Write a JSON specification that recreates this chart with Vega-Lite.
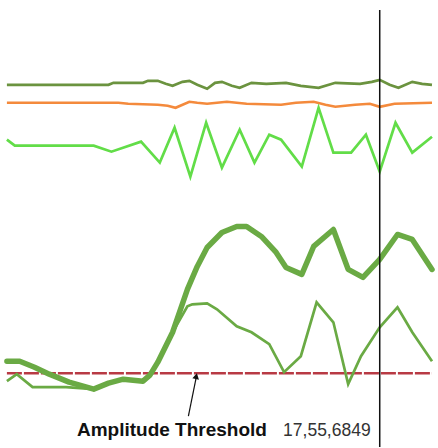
{
  "$schema": "https://vega.github.io/schema/vega-lite/v6.json",
  "width": 438,
  "height": 448,
  "autosize": {"type": "fit", "contains": "padding"},
  "padding": 0,
  "background": "white",
  "config": {"view": {"stroke": null}},
  "datasets": {
    "lines": [
      {"s": "olive", "t": 7, "a": 85}, {"s": "olive", "t": 110, "a": 85}, {"s": "olive", "t": 115, "a": 83}, {"s": "olive", "t": 145, "a": 83}, {"s": "olive", "t": 150, "a": 81}, {"s": "olive", "t": 160, "a": 81}, {"s": "olive", "t": 168, "a": 84}, {"s": "olive", "t": 175, "a": 86}, {"s": "olive", "t": 185, "a": 82}, {"s": "olive", "t": 192, "a": 81}, {"s": "olive", "t": 200, "a": 85}, {"s": "olive", "t": 210, "a": 89}, {"s": "olive", "t": 218, "a": 83}, {"s": "olive", "t": 225, "a": 82}, {"s": "olive", "t": 235, "a": 86}, {"s": "olive", "t": 243, "a": 88}, {"s": "olive", "t": 255, "a": 83}, {"s": "olive", "t": 270, "a": 84}, {"s": "olive", "t": 290, "a": 83}, {"s": "olive", "t": 305, "a": 86}, {"s": "olive", "t": 323, "a": 88}, {"s": "olive", "t": 340, "a": 83}, {"s": "olive", "t": 365, "a": 84}, {"s": "olive", "t": 377, "a": 82}, {"s": "olive", "t": 385, "a": 80}, {"s": "olive", "t": 395, "a": 85}, {"s": "olive", "t": 404, "a": 88}, {"s": "olive", "t": 418, "a": 82}, {"s": "olive", "t": 428, "a": 84}, {"s": "olive", "t": 438, "a": 85},
      {"s": "orange", "t": 7, "a": 103}, {"s": "orange", "t": 120, "a": 103}, {"s": "orange", "t": 130, "a": 104}, {"s": "orange", "t": 160, "a": 105}, {"s": "orange", "t": 170, "a": 106}, {"s": "orange", "t": 178, "a": 108}, {"s": "orange", "t": 192, "a": 102}, {"s": "orange", "t": 200, "a": 103}, {"s": "orange", "t": 210, "a": 104}, {"s": "orange", "t": 230, "a": 102}, {"s": "orange", "t": 250, "a": 104}, {"s": "orange", "t": 285, "a": 105}, {"s": "orange", "t": 300, "a": 103}, {"s": "orange", "t": 318, "a": 102}, {"s": "orange", "t": 330, "a": 105}, {"s": "orange", "t": 340, "a": 107}, {"s": "orange", "t": 360, "a": 105}, {"s": "orange", "t": 375, "a": 104}, {"s": "orange", "t": 385, "a": 107}, {"s": "orange", "t": 400, "a": 104}, {"s": "orange", "t": 438, "a": 103},
      {"s": "lime", "t": 7, "a": 140}, {"s": "lime", "t": 15, "a": 146}, {"s": "lime", "t": 95, "a": 146}, {"s": "lime", "t": 113, "a": 152}, {"s": "lime", "t": 143, "a": 142}, {"s": "lime", "t": 162, "a": 163}, {"s": "lime", "t": 177, "a": 128}, {"s": "lime", "t": 193, "a": 177}, {"s": "lime", "t": 209, "a": 123}, {"s": "lime", "t": 225, "a": 168}, {"s": "lime", "t": 243, "a": 130}, {"s": "lime", "t": 258, "a": 163}, {"s": "lime", "t": 273, "a": 135}, {"s": "lime", "t": 285, "a": 140}, {"s": "lime", "t": 306, "a": 167}, {"s": "lime", "t": 323, "a": 108}, {"s": "lime", "t": 338, "a": 153}, {"s": "lime", "t": 356, "a": 153}, {"s": "lime", "t": 371, "a": 135}, {"s": "lime", "t": 385, "a": 172}, {"s": "lime", "t": 401, "a": 123}, {"s": "lime", "t": 418, "a": 153}, {"s": "lime", "t": 438, "a": 137},
      {"s": "thin", "t": 7, "a": 382}, {"s": "thin", "t": 17, "a": 375}, {"s": "thin", "t": 33, "a": 388}, {"s": "thin", "t": 67, "a": 388}, {"s": "thin", "t": 95, "a": 390}, {"s": "thin", "t": 110, "a": 384}, {"s": "thin", "t": 125, "a": 380}, {"s": "thin", "t": 145, "a": 382}, {"s": "thin", "t": 152, "a": 376}, {"s": "thin", "t": 160, "a": 363}, {"s": "thin", "t": 175, "a": 333}, {"s": "thin", "t": 190, "a": 307}, {"s": "thin", "t": 195, "a": 305}, {"s": "thin", "t": 210, "a": 304}, {"s": "thin", "t": 220, "a": 310}, {"s": "thin", "t": 240, "a": 327}, {"s": "thin", "t": 255, "a": 333}, {"s": "thin", "t": 273, "a": 345}, {"s": "thin", "t": 288, "a": 373}, {"s": "thin", "t": 305, "a": 357}, {"s": "thin", "t": 321, "a": 303}, {"s": "thin", "t": 338, "a": 323}, {"s": "thin", "t": 353, "a": 385}, {"s": "thin", "t": 366, "a": 357}, {"s": "thin", "t": 385, "a": 328}, {"s": "thin", "t": 403, "a": 308}, {"s": "thin", "t": 418, "a": 333}, {"s": "thin", "t": 438, "a": 362},
      {"s": "thick", "t": 7, "a": 362}, {"s": "thick", "t": 20, "a": 362}, {"s": "thick", "t": 35, "a": 368}, {"s": "thick", "t": 50, "a": 375}, {"s": "thick", "t": 70, "a": 383}, {"s": "thick", "t": 95, "a": 390}, {"s": "thick", "t": 110, "a": 384}, {"s": "thick", "t": 125, "a": 380}, {"s": "thick", "t": 145, "a": 382}, {"s": "thick", "t": 152, "a": 376}, {"s": "thick", "t": 160, "a": 363}, {"s": "thick", "t": 175, "a": 333}, {"s": "thick", "t": 190, "a": 290}, {"s": "thick", "t": 200, "a": 267}, {"s": "thick", "t": 210, "a": 248}, {"s": "thick", "t": 218, "a": 240}, {"s": "thick", "t": 225, "a": 233}, {"s": "thick", "t": 240, "a": 227}, {"s": "thick", "t": 250, "a": 227}, {"s": "thick", "t": 265, "a": 237}, {"s": "thick", "t": 280, "a": 253}, {"s": "thick", "t": 290, "a": 268}, {"s": "thick", "t": 306, "a": 275}, {"s": "thick", "t": 318, "a": 247}, {"s": "thick", "t": 338, "a": 230}, {"s": "thick", "t": 353, "a": 270}, {"s": "thick", "t": 368, "a": 278}, {"s": "thick", "t": 385, "a": 260}, {"s": "thick", "t": 403, "a": 235}, {"s": "thick", "t": 418, "a": 240}, {"s": "thick", "t": 438, "a": 270}
    ],
    "threshold": [{"t": 7, "t2": 438, "a": 374}],
    "cursor": [{"t": 385, "a": 10, "a2": 448}],
    "arrow": [{"t": 191, "a": 417, "t2": 199, "a2": 378}],
    "tip": [{"t": 199, "a": 377}],
    "labels": [
      {"t": 78, "a": 437, "label": "Amplitude Threshold"},
      {"t": 287, "a": 437, "label": "17,55,6849"}
    ]
  },
  "layer": [
    {
      "data": {"name": "threshold"},
      "mark": {"type": "rule", "color": "#b83a44", "strokeWidth": 2.5, "strokeDash": [15, 2]},
      "encoding": {
        "x": {"field": "t", "type": "quantitative", "scale": {"domain": [0, 438], "nice": false, "zero": false}, "axis": null},
        "x2": {"field": "t2"},
        "y": {"field": "a", "type": "quantitative", "scale": {"domain": [0, 448], "nice": false, "zero": false, "reverse": true}, "axis": null}
      }
    },
    {
      "data": {"name": "lines"},
      "transform": [{"filter": "datum.s !== 'thick'"}],
      "mark": {"type": "line", "strokeWidth": 2.7, "interpolate": "linear"},
      "encoding": {
        "x": {"field": "t", "type": "quantitative"},
        "y": {"field": "a", "type": "quantitative"},
        "detail": {"field": "s"},
        "color": {"field": "s", "type": "nominal", "legend": null,
          "scale": {"domain": ["olive", "orange", "lime", "thin", "thick"], "range": ["#6b933f", "#f48a3c", "#62dd48", "#6aaa44", "#6aaa44"]}}
      }
    },
    {
      "data": {"name": "lines"},
      "transform": [{"filter": "datum.s === 'thick'"}],
      "mark": {"type": "line", "strokeWidth": 5.5, "color": "#6aaa44", "strokeJoin": "round", "strokeCap": "round"},
      "encoding": {
        "x": {"field": "t", "type": "quantitative"},
        "y": {"field": "a", "type": "quantitative"}
      }
    },
    {
      "data": {"name": "cursor"},
      "mark": {"type": "rule", "color": "#111111", "strokeWidth": 1.5},
      "encoding": {
        "x": {"field": "t", "type": "quantitative"},
        "y": {"field": "a", "type": "quantitative"},
        "y2": {"field": "a2"}
      }
    },
    {
      "data": {"name": "arrow"},
      "mark": {"type": "rule", "color": "#111111", "strokeWidth": 1.2},
      "encoding": {
        "x": {"field": "t", "type": "quantitative"},
        "y": {"field": "a", "type": "quantitative"},
        "x2": {"field": "t2"},
        "y2": {"field": "a2"}
      }
    },
    {
      "data": {"name": "tip"},
      "mark": {"type": "point", "shape": "triangle-up", "filled": true, "color": "#111111", "size": 45, "angle": 12, "opacity": 1},
      "encoding": {
        "x": {"field": "t", "type": "quantitative"},
        "y": {"field": "a", "type": "quantitative"}
      }
    },
    {
      "data": {"name": "labels"},
      "transform": [{"filter": "datum.label === 'Amplitude Threshold'"}],
      "mark": {"type": "text", "align": "left", "baseline": "alphabetic", "font": "Liberation Sans", "fontWeight": "bold", "fontSize": 19, "color": "#111111"},
      "encoding": {
        "x": {"field": "t", "type": "quantitative"},
        "y": {"field": "a", "type": "quantitative"},
        "text": {"field": "label"}
      }
    },
    {
      "data": {"name": "labels"},
      "transform": [{"filter": "datum.label !== 'Amplitude Threshold'"}],
      "mark": {"type": "text", "align": "left", "baseline": "alphabetic", "font": "Liberation Sans", "fontSize": 17.5, "color": "#333333"},
      "encoding": {
        "x": {"field": "t", "type": "quantitative"},
        "y": {"field": "a", "type": "quantitative"},
        "text": {"field": "label"}
      }
    }
  ]
}
